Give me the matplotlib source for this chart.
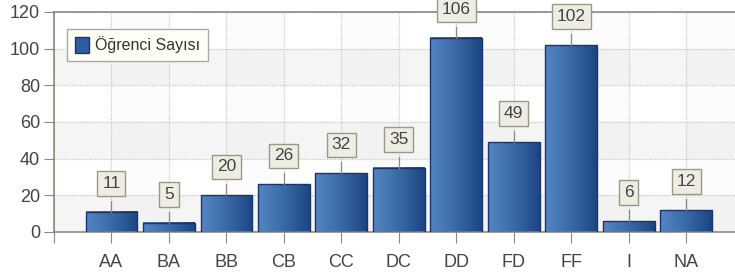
import matplotlib
matplotlib.use('agg')
import matplotlib.pyplot as plt
import numpy as np
from matplotlib.patches import Rectangle, Patch
from matplotlib.colors import LinearSegmentedColormap

categories = ['AA', 'BA', 'BB', 'CB', 'CC', 'DC', 'DD', 'FD', 'FF', 'I', 'NA']
counts = [11, 5, 20, 26, 32, 35, 106, 49, 102, 6, 12]
yticks = [0, 20, 40, 60, 80, 100, 120]
series_name = 'Öğrenci Sayısı'

plt.rcParams['font.family'] = ['Liberation Sans', 'DejaVu Sans']

grad = LinearSegmentedColormap.from_list('bar', ['#5585c2', '#3b69a8', '#1c4683'])
gvals = np.linspace(0, 1, 64).reshape(1, -1)

fig = plt.figure(figsize=(7.35, 2.75), dpi=100)
ax = fig.add_axes([54/735, 43/275, (735-54)/735, 220/275])

# background bands
for y0 in (0, 40, 80):
    ax.axhspan(y0, y0 + 20, color='#f5f5f5', zorder=0, lw=0)
for xb in range(0, 12, 2):
    ax.axvspan(xb, xb + 1.0, color='#000000', alpha=0.012, zorder=0, lw=0)

ax.grid(True, color='#c8c8c8', linestyle=(0, (1, 1)), linewidth=0.9, zorder=1)
ax.set_axisbelow(True)

width = 0.9
x = np.arange(len(categories))
for xi, v in zip(x, counts):
    ax.imshow(gvals, cmap=grad, aspect='auto', extent=(xi - width/2, xi + width/2, 0, v),
              zorder=2, interpolation='bilinear')
    ax.add_patch(Rectangle((xi - width/2, 0), width, v, fill=False,
                           edgecolor='#17356e', linewidth=1.0, zorder=3))
    ax.plot([xi, xi], [v, v + 6], color='#888888', lw=0.9, zorder=3, clip_on=False)
    ax.text(xi, v + 15.5, str(v), ha='center', va='center', fontsize=12.5, color='#444444',
            zorder=4, clip_on=False,
            bbox=dict(boxstyle='square,pad=0.28', fc='#efede3', ec='#999988', lw=1.0))

ax.set_xlim(-1, 10.85)
ax.set_ylim(0, 120)
ax.set_xticks(list(x) + [-1])
ax.set_xticklabels(categories + [''])
ax.set_yticks(yticks)
ax.tick_params(axis='x', length=8, color='#888888', labelsize=13, labelcolor='#444444', pad=8)
ax.tick_params(axis='y', length=7, color='#888888', labelsize=13, labelcolor='#444444', pad=3)

for s in ('left', 'bottom', 'top'):
    ax.spines[s].set_color('#8a8a80')
    ax.spines[s].set_linewidth(1.2)
ax.spines['right'].set_visible(False)

# legend
leg = ax.legend([Patch(facecolor='#2f5d9e', edgecolor='#17356e')], [series_name],
                loc='upper left', bbox_to_anchor=(13/681, 0.925), borderaxespad=0,
                fontsize=11.5, frameon=True, fancybox=False, handlelength=0.9,
                handleheight=1.2, handletextpad=0.35, borderpad=0.5, labelcolor='#333333')
leg.get_frame().set_facecolor('#fffff6')
leg.get_frame().set_edgecolor('#aaaaaa')
leg.get_frame().set_alpha(1)

fig.savefig('out.png', dpi=100)
